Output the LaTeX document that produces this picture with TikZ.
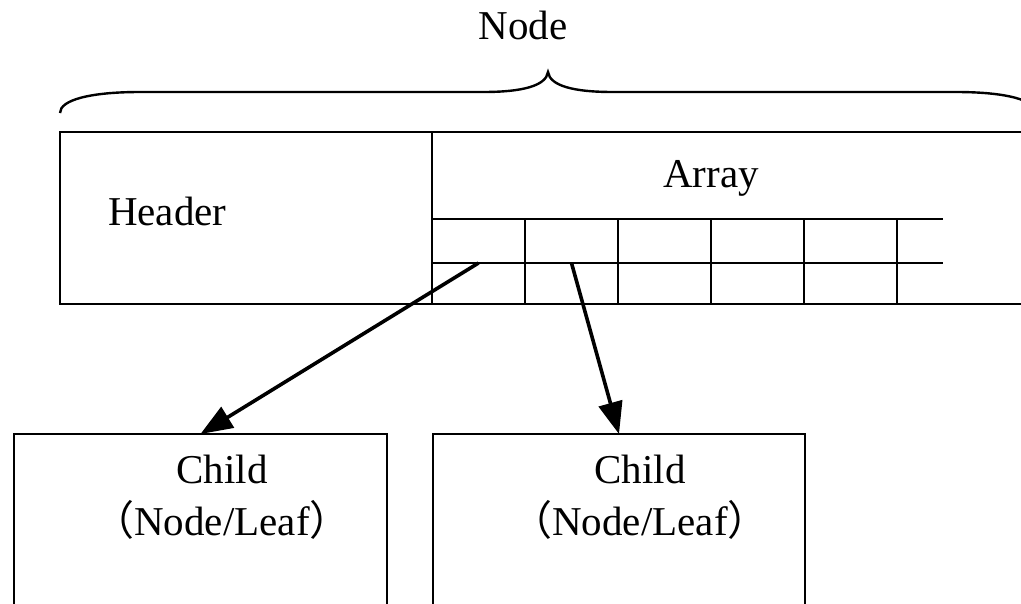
\documentclass[tikz,border=0pt]{standalone}
\usepackage{fontspec}
\setmainfont{Liberation Serif}
\newfontfamily\cjk{Noto Sans CJK SC}
\usetikzlibrary{arrows.meta}
\tikzset{
  box/.style={draw, line width=2.4pt, rectangle, inner sep=0pt, outer sep=0pt},
  cell/.style={draw, line width=2.8pt, rectangle, inner sep=0pt, outer sep=0pt, minimum width=93pt},
  lbl/.style={inner sep=0pt, outer sep=0pt, font=\fontsize{41}{52}\selectfont},
  ptr/.style={line width=3.6pt, -{Triangle[length=32pt,width=24pt]}},
  bracestyle/.style={line width=2.4pt},
}
\begin{document}
\begin{tikzpicture}[x=1pt,y=-1pt]
\useasboundingbox (0,0) rectangle (1021,603);
\clip (0,0) rectangle (1021,603);
% title and brace
\node[lbl, anchor=base] (title) at (523,39) {Node};
\draw[bracestyle] (60,113) .. controls (60,100) and (90,92) .. (140,92) -- (483,92)
  .. controls (522,92) and (546,86) .. (548,72)
  .. controls (550,86) and (574,92) .. (613,92) -- (956,92)
  .. controls (1006,92) and (1036,100) .. (1036,113);
% header and array boxes
\node[box, anchor=north west, minimum width=372pt, minimum height=172pt] (header) at (60,132) {};
\node[lbl, anchor=base west] (headertxt) at (108,225) {Header};
\node[box, line width=1.8pt, anchor=north west, minimum width=620pt, minimum height=172pt] (array) at (432,132) {};
\node[lbl, anchor=base] (arraytxt) at (711,187) {Array};
% cells
\foreach \i/\x in {1/478.5,2/571.5,3/664.5,4/757.5,5/850.5}{
  \node[cell, minimum height=44pt] (a\i) at (\x,241) {};
  \node[cell, minimum height=41pt] (b\i) at (\x,283.5) {};
}
\coordinate (e1) at (943,219);
\coordinate (e2) at (943,263);
\coordinate (e3) at (943,304);
\draw[line width=2.8pt] (a5.north east) -- (e1);
\draw[line width=2.8pt] (b5.north east) -- (e2);
\draw[line width=2.8pt] (b5.south east) -- (e3);
% children
\node[box, anchor=north west, minimum width=373pt, minimum height=250pt] (c1) at (14,434) {};
\node[box, anchor=north west, minimum width=372pt, minimum height=250pt] (c2) at (433,434) {};
\node[lbl, anchor=base] (c1a) at (222,483) {Child};
\node[lbl, anchor=base] (c1b) at (222,535) {{\cjk （}Node/Leaf{\cjk ）}};
\node[lbl, anchor=base] (c2a) at (640,483) {Child};
\node[lbl, anchor=base] (c2b) at (640,535) {{\cjk （}Node/Leaf{\cjk ）}};
% pointers
\draw[ptr] (b1.north) -- (c1.north);
\draw[ptr] (b2.north) -- (c2.north);
\end{tikzpicture}
\end{document}
